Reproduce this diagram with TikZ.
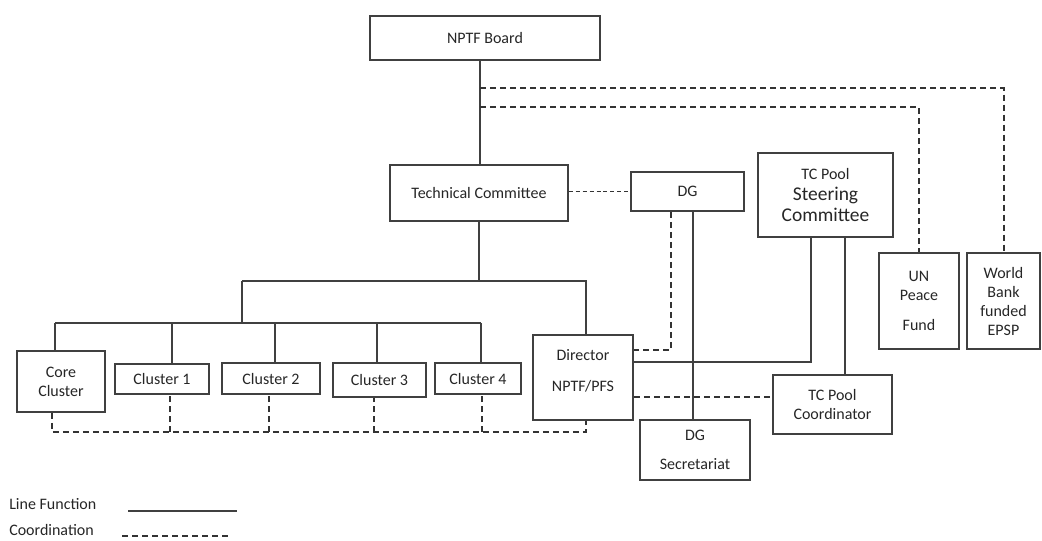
\documentclass[tikz,border=0pt]{standalone}
\usepackage{fontspec}
\setmainfont{Carlito}
\newlength{\px}
\setlength{\px}{0.75pt}

\begin{document}
\begin{tikzpicture}[x=0.75pt, y=-0.75pt]
    \tikzstyle{box} = [rectangle, draw=black!75, line width=1.2pt, inner sep=0pt, text centered, align=center, text=black!85, font=\fontsize{12}{14.25}\selectfont]
    \tikzstyle{solidline} = [draw=black!75, line width=1.5pt]
    \tikzstyle{dashline} = [draw=black!80, line width=1.5pt, dash pattern=on 4.5pt off 3pt]
    \tikzstyle{finedash} = [draw=black!80, line width=1pt, dash pattern=on 3pt off 2.2pt]

    \useasboundingbox (0,0) rectangle (1042,540);

    % top level
    \node (board) [box, minimum width=230\px, minimum height=44\px] at (485,38) {NPTF Board};
    \node (tech) [box, minimum width=178\px, minimum height=56\px] at (479,193) {Technical Committee};
    \node (dg) [box, minimum width=113\px, minimum height=39\px] at (687.5,191.5) {DG};
    \node (steer) [box, minimum width=135\px, minimum height=84\px] at (825.5,195) {TC Pool\\[1pt]{\fontsize{14.6}{17}\selectfont Steering}\\[1.5pt]{\fontsize{14.6}{17}\selectfont Committee}};
    \node (un) [box, minimum width=80\px, minimum height=96\px] at (919,301) {UN\\Peace\\[8pt]Fund};
    \node (wb) [box, minimum width=73\px, minimum height=96\px] at (1003.5,301) {World\\Bank\\funded\\EPSP};

    % clusters
    \node (core) [box, minimum width=88\px, minimum height=61\px] at (61,381.5) {Core\\Cluster};
    \node (c1) [box, minimum width=94\px, minimum height=30\px] at (162,379) {Cluster 1};
    \node (c2) [box, minimum width=98\px, minimum height=31\px] at (271,378.5) {Cluster 2};
    \node (c3) [box, minimum width=93\px, minimum height=34\px] at (379.5,380) {Cluster 3};
    \node (c4) [box, minimum width=86\px, minimum height=31\px] at (478,378.5) {Cluster 4};

    % directorate
    \node (dir) [box, minimum width=100\px, minimum height=85\px] at (583,377.5) {Director\\[9pt]NPTF/PFS\\[-3pt]\mbox{}};
    \node (dgsec) [box, minimum width=110\px, minimum height=60\px] at (695,450) {DG\\[8pt]Secretariat};
    \node (tcc) [box, minimum width=119\px, minimum height=59\px] at (832.5,404.5) {TC Pool\\Coordinator};

    % legend
    \node (lf) [anchor=west, inner sep=0pt, text=black!85, font=\fontsize{12}{14}\selectfont] at (9,504) {Line Function};
    \node (co) [anchor=west, inner sep=0pt, text=black!85, font=\fontsize{12}{14}\selectfont] at (9,530) {Coordination};
    \coordinate (lf1) at (128,511);
    \coordinate (lf2) at (237,511);
    \coordinate (co1) at (122,536);
    \coordinate (co2) at (232,536);
    \draw [solidline] (lf1) -- (lf2);
    \draw [dashline] (co1) -- (co2);

    % board to committee and funds
    \coordinate (t0) at (480,88);
    \coordinate (t2) at (480,107);
    \draw [solidline] (board.south -| t0) -- (tech.north -| t0);
    \draw [dashline] (t0) -| (wb.north);
    \draw [dashline] (t2) -| (un.north);
    \draw [finedash] (tech.east |- dg.west) -- (dg.west);

    % committee tree
    \coordinate (h0) at (242,281);
    \coordinate (h1) at (586,281);
    \coordinate (k0) at (242,323);
    \draw [solidline] (tech.south) -- (tech.south |- h0);
    \draw [solidline] (h0) -- (h1) -- (h1 |- dir.north);
    \draw [solidline] (h0) -- (k0);
    \coordinate (b0) at (55,323);
    \coordinate (b4) at (481,323);
    \draw [solidline] (b0) -- (b4);
    \foreach \n/\x in {core/55, c1/172, c2/275, c3/377, c4/481} {
        \coordinate (d) at (\x,323);
        \draw [solidline] (d) -- (d |- \n.north);
    }

    % coordination among clusters
    \coordinate (e0) at (52,432);
    \coordinate (e5) at (586,432);
    \draw [dashline] (core.south -| e0) -- (e0) -- (e5) -- (dir.south -| e5);
    \foreach \n/\x in {c1/170, c2/269, c3/374, c4/482} {
        \coordinate (d) at (\x,432);
        \draw [dashline] (d) -- (d |- \n.south);
    }

    % DG and TC pool links
    \coordinate (g0) at (693,0);
    \coordinate (g1) at (671,350);
    \draw [solidline] (dg.south -| g0) -- (dgsec.north -| g0);
    \draw [dashline] (dg.south -| g1) -- (g1) -- (dir.east |- g1);
    \coordinate (s0) at (811,362);
    \coordinate (s1) at (845,0);
    \draw [solidline] (steer.south -| s0) -- (s0) -- (dir.east |- s0);
    \draw [solidline] (steer.south -| s1) -- (tcc.north -| s1);
    \coordinate (r0) at (0,397);
    \draw [dashline] (dir.east |- r0) -- (tcc.west |- r0);
\end{tikzpicture}
\end{document}
